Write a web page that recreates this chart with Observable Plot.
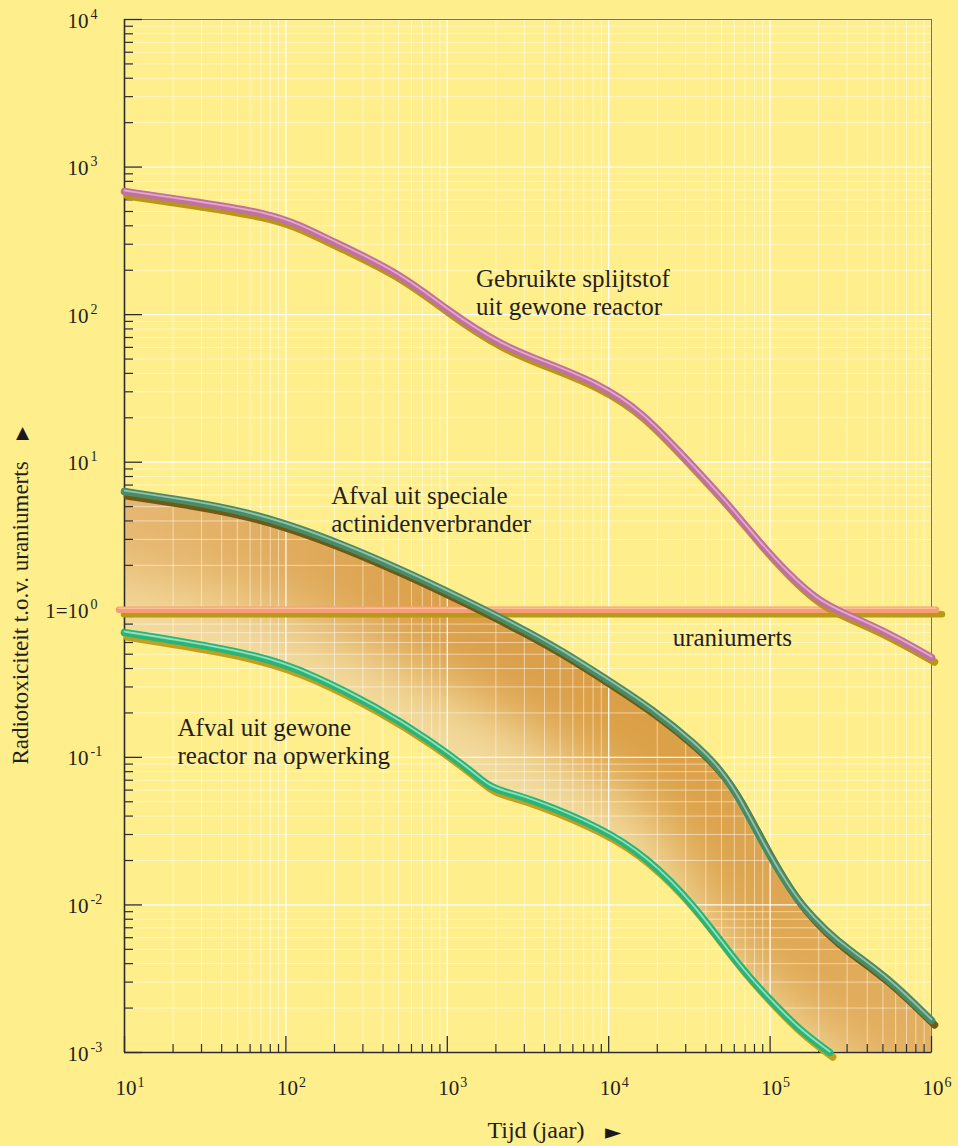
<!DOCTYPE html>
<html>
<head>
<meta charset="utf-8">
<script src="https://cdn.jsdelivr.net/npm/d3@7"></script>
<script src="https://cdn.jsdelivr.net/npm/@observablehq/plot@0.6"></script>
<style>
  html, body { margin: 0; padding: 0; background: #ffee8c; }
  #chart svg { display: block; }
</style>
</head>
<body>
<div id="chart"></div>
<script>
// ---------- data ----------
const xTickExponents = [1, 2, 3, 4, 5, 6];
const yTickExponents = [-3, -2, -1, 0, 1, 2, 3, 4];
const minorMultipliers = [2, 3, 4, 5, 6, 7, 8, 9];

// Gebruikte splijtstof uit gewone reactor
const spentFuelYears = [10, 29.6, 76.9, 123, 189, 513, 1000, 2136, 4177, 8522, 15740, 30770, 54450, 83550, 128200, 196700, 285000, 504200, 1000000];
const spentFuelTox   = [683, 575, 485, 402, 318, 190, 106.7, 61.8, 46.7, 34.2, 22.4, 10.27, 5.25, 2.95, 1.762, 1.156, 0.944, 0.724, 0.475];

// Afval uit speciale actinidenverbrander
const actinideYears = [10, 21.3, 45.3, 96.4, 226, 532, 1200, 2820, 5210, 9750, 18800, 35200, 47220, 62100, 95200, 126400, 159000, 220400, 298000, 527000, 1000000];
const actinideTox   = [6.33, 5.59, 4.86, 3.90, 2.77, 1.846, 1.211, 0.759, 0.522, 0.337, 0.211, 0.1203, 0.0867, 0.0578, 0.0234, 0.01397, 0.00976, 0.00671, 0.00507, 0.00327, 0.00165];

// Afval uit gewone reactor na opwerking
const reprocYears = [10, 21.3, 69.5, 142, 368, 783, 1385, 1606, 1840, 2294, 3250, 9200, 17200, 33200, 64800, 104000, 152000, 234000];
const reprocTox   = [0.70, 0.617, 0.488, 0.369, 0.218, 0.130, 0.0815, 0.0708, 0.0634, 0.0578, 0.0526, 0.0330, 0.0210, 0.0103, 0.00378, 0.00217, 0.00142, 0.001];

// uraniumerts (reference level)
const uraniumOreTox = 1;

const labelSpent = "Gebruikte splijtstof\nuit gewone reactor";
const labelActinide = "Afval uit speciale\nactinidenverbrander";
const labelReproc = "Afval uit gewone\nreactor na opwerking";
const labelOre = "uraniumerts";
const xTitle = "Tijd (jaar)";
const yTitle = "Radiotoxiciteit t.o.v. uraniumerts";

// ---------- layout ----------
const W = 958, H = 1146, mL = 124, mR = 27, mT = 19, mB = 94;
const innerW = W - mL - mR, innerH = H - mT - mB;
const serif = "'Liberation Serif', 'Times New Roman', serif";
const ink = "#231f20";
const curveType = "basis";

const rows = (ts, vs) => ts.map((t, i) => ({t, v: vs[i]}));
const spent = rows(spentFuelYears, spentFuelTox);
const actinide = rows(actinideYears, actinideTox);
const reproc = rows(reprocYears, reprocTox);

const xMin = 10 ** d3.min(xTickExponents), xMax = 10 ** d3.max(xTickExponents);
const yMin = 10 ** d3.min(yTickExponents), yMax = 10 ** d3.max(yTickExponents);

// band between the two lower curves (bottom runs along the axis after the green curve ends)
const floorYears = actinideYears.slice(reprocYears.length);
const band = actinideYears.map((t, i) => i < reprocYears.length
  ? {t1: reprocYears[i], v1: reprocTox[i], t2: t, v2: actinideTox[i]}
  : {t1: floorYears[i - reprocYears.length], v1: yMin, t2: t, v2: actinideTox[i]});

const minorX = d3.range(d3.min(xTickExponents), d3.max(xTickExponents)).flatMap(e => minorMultipliers.map(m => m * 10 ** e));
const minorY = d3.range(d3.min(yTickExponents), d3.max(yTickExponents)).flatMap(e => minorMultipliers.map(m => m * 10 ** e));
const majorX = xTickExponents.map(e => 10 ** e);
const majorY = yTickExponents.map(e => 10 ** e);

function curveMarks(data, {color, light, shadow, width = 7.5}) {
  const base = {x: "t", y: "v", curve: curveType, strokeLinecap: "round", strokeLinejoin: "round"};
  return [
    Plot.line(data, {...base, stroke: shadow, strokeWidth: width, dx: 3, dy: 4.5}),
    Plot.line(data, {...base, stroke: color, strokeWidth: width}),
    Plot.line(data, {...base, stroke: light, strokeWidth: 1.8, dy: -1, strokeOpacity: 0.85})
  ];
}

const expText = e => e < 0 ? "-" + (-e) : String(e);

const svg = Plot.plot({
  width: W, height: H,
  marginLeft: mL, marginRight: mR, marginTop: mT, marginBottom: mB,
  style: {background: "#ffee8c", fontFamily: serif, color: ink},
  x: {type: "log", domain: [xMin, xMax], axis: null},
  y: {type: "log", domain: [yMin, yMax], axis: null},
  marks: [
    // shaded band
    Plot.area(band, {x1: "t1", y1: "v1", x2: "t2", y2: "v2", curve: curveType, fill: "#f3dc9f"}),
    // glow inside band (blurred + clipped in post-processing)
    Plot.line(actinide, {x: "t", y: "v", curve: curveType, stroke: "url(#glowGrad)", strokeWidth: 150, dy: 12}),
    // grid
    Plot.ruleX(minorX, {x: d => d, stroke: "white", strokeOpacity: 0.5, strokeWidth: 1}),
    Plot.ruleY(minorY, {y: d => d, stroke: "white", strokeOpacity: 0.5, strokeWidth: 1}),
    Plot.ruleX(majorX, {x: d => d, stroke: "white", strokeOpacity: 0.95, strokeWidth: 1.3}),
    Plot.ruleY(majorY, {y: d => d, stroke: "white", strokeOpacity: 0.95, strokeWidth: 1.3}),
    // frame + axes
    Plot.frame({stroke: "#77715a", strokeWidth: 1}),
    Plot.ruleX([xMin], {x: d => d, stroke: "#2b2b2b", strokeWidth: 1.6}),
    Plot.ruleY([yMin], {y: d => d, stroke: "#2b2b2b", strokeWidth: 1.6}),
    // inward ticks
    Plot.tickY(minorY, {y: d => d, insetRight: innerW - 9, stroke: "#2b2b2b", strokeWidth: 1.2}),
    Plot.tickY(majorY, {y: d => d, insetRight: innerW - 18, stroke: "#2b2b2b", strokeWidth: 1.3}),
    Plot.tickX(minorX, {x: d => d, insetTop: innerH - 8, stroke: "#2b2b2b", strokeWidth: 1.2}),
    Plot.tickX(majorX, {x: d => d, insetTop: innerH - 16, stroke: "#2b2b2b", strokeWidth: 1.3}),
    // tick labels
    Plot.text(xTickExponents, {x: e => 10 ** e, frameAnchor: "bottom", text: () => "10", textAnchor: "middle", lineAnchor: "bottom", dx: 1.5, dy: 42, fontSize: 21, fill: ink}),
    Plot.text(xTickExponents, {x: e => 10 ** e, frameAnchor: "bottom", text: expText, textAnchor: "start", lineAnchor: "bottom", dx: 13, dy: 34, fontSize: 14, fill: ink}),
    Plot.text(yTickExponents, {y: e => 10 ** e, frameAnchor: "left", text: e => e === 0 ? "1=10" : "10", textAnchor: "end", lineAnchor: "bottom", dx: -36, dy: 8, fontSize: 21, fill: ink}),
    Plot.text(yTickExponents, {y: e => 10 ** e, frameAnchor: "left", text: expText, textAnchor: "start", lineAnchor: "bottom", dx: -34, dy: -1, fontSize: 14, fill: ink}),
    // axis titles
    Plot.text([xTitle], {text: d => d, frameAnchor: "bottom", textAnchor: "middle", lineAnchor: "bottom", dx: 8, dy: 85, fontSize: 24, fill: ink}),
    Plot.text(["\u25BA"], {text: d => d, frameAnchor: "bottom", textAnchor: "middle", lineAnchor: "bottom", dx: 85, dy: 86, fontSize: 21, fontFamily: "DejaVu Sans", fill: "#1a1a1a"}),
    Plot.text([yTitle], {text: d => d, frameAnchor: "left", rotate: -90, textAnchor: "middle", lineAnchor: "bottom", dx: -97, dy: 77, fontSize: 23, fill: ink}),
    Plot.text(["\u25B2"], {text: d => d, frameAnchor: "left", textAnchor: "middle", lineAnchor: "bottom", dx: -102, dy: -98, fontSize: 17, fontFamily: "DejaVu Sans", fill: "#1a1a1a"}),
    // uranium ore reference line
    Plot.ruleY([uraniumOreTox], {y: d => d, stroke: "#b89a18", strokeWidth: 6.5, strokeLinecap: "round", insetLeft: -3, insetRight: -8, dx: 3, dy: 4.5}),
    Plot.ruleY([uraniumOreTox], {y: d => d, stroke: "#f59e76", strokeWidth: 6.5, strokeLinecap: "round", insetLeft: -5, insetRight: -5}),
    Plot.ruleY([uraniumOreTox], {y: d => d, stroke: "#ffc4a4", strokeWidth: 1.4, strokeLinecap: "round", insetLeft: -5, insetRight: -5, dy: -1.5, strokeOpacity: 0.8}),
    // curves
    ...curveMarks(reproc, {color: "#2ab478", light: "#a8e6c6", shadow: "#c2a01e"}),
    ...curveMarks(actinide, {color: "#478c66", light: "#a6c8b2", shadow: "#6e5a14"}),
    ...curveMarks(spent, {color: "#c0729e", light: "#ebb1cf", shadow: "#b99614"}),
    // annotations
    Plot.text([labelSpent], {text: d => d, x: 1507, y: 100, textAnchor: "start", lineAnchor: "bottom", lineHeight: 1.1, fontSize: 25, fill: ink}),
    Plot.text([labelActinide], {text: d => d, x: 191, y: 3.39, textAnchor: "start", lineAnchor: "bottom", lineHeight: 1.1, fontSize: 25, fill: ink}),
    Plot.text([labelReproc], {text: d => d, x: 21.3, y: 0.0908, textAnchor: "start", lineAnchor: "bottom", lineHeight: 1.1, fontSize: 25, fill: ink}),
    Plot.text([labelOre], {text: d => d, x: 24900, y: 0.564, textAnchor: "start", lineAnchor: "bottom", fontSize: 25, fill: ink})
  ]
});
document.getElementById("chart").appendChild(svg);

// ---------- post-processing: gradient glow clipped to the band ----------
const sel = d3.select(svg);
const defs = sel.insert("defs", ":first-child");
defs.append("filter").attr("id", "bandBlur")
  .attr("x", "-20%").attr("y", "-20%").attr("width", "140%").attr("height", "140%")
  .append("feGaussianBlur").attr("stdDeviation", 30);
const grad = defs.append("linearGradient").attr("id", "glowGrad")
  .attr("x1", 0).attr("y1", 0).attr("x2", 1).attr("y2", 0);
[[0, "#e6b872"], [0.4, "#db9f48"], [0.7, "#dba047"], [1, "#e3b062"]]
  .forEach(([o, c]) => grad.append("stop").attr("offset", o).attr("stop-color", c));

const areaG = sel.select('g[aria-label="area"]');
const areaPath = areaG.select("path");
const clipPath = defs.append("clipPath").attr("id", "bandClip").append("path").attr("d", areaPath.attr("d"));
if (areaG.attr("transform")) clipPath.attr("transform", areaG.attr("transform"));

const glowNode = sel.select('g[aria-label="line"]').node();
const wrapper = document.createElementNS("http://www.w3.org/2000/svg", "g");
glowNode.parentNode.insertBefore(wrapper, glowNode);
wrapper.appendChild(glowNode);
wrapper.setAttribute("clip-path", "url(#bandClip)");
glowNode.setAttribute("filter", "url(#bandBlur)");
</script>
</body>
</html>
